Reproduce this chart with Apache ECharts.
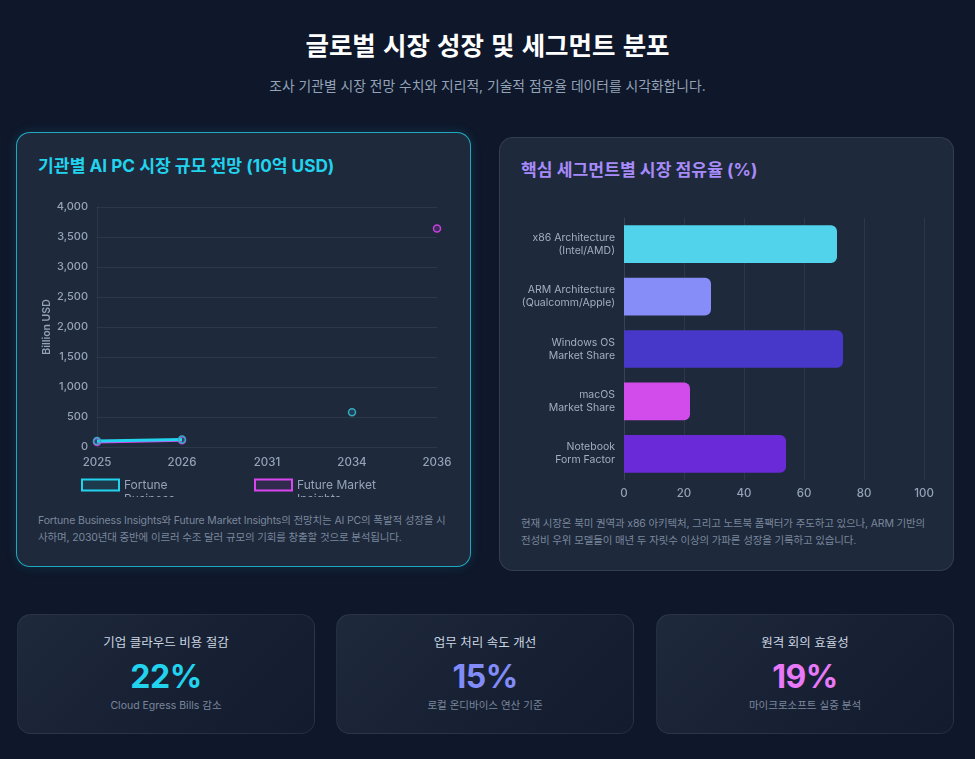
<!DOCTYPE html>
<html lang="ko">
<head>
<meta charset="utf-8">
<script src="https://cdn.jsdelivr.net/npm/echarts@6/dist/echarts.min.js"></script>
<style>
  html, body { margin:0; padding:0; }
  body { width:975px; height:759px; background:#0f172a; position:relative; overflow:hidden;
         font-family: Inter, "Noto Sans CJK KR", "Noto Sans", sans-serif; }
  .abs { position:absolute; }
  h1 { position:absolute; left:0; width:975px; top:26px; margin:0; text-align:center; color:#fff;
       font-size:25.5px; font-weight:700; line-height:36px; font-family:"Noto Sans CJK KR", Inter, sans-serif; }
  .sub { position:absolute; left:0; width:975px; top:76px; text-align:center; color:#94a3b8; font-size:13.8px; line-height:20px; }
  .card { position:absolute; background:#1e293b; border-radius:14px; box-sizing:border-box; }
  #cardL { left:16px; top:132px; width:455px; height:435px; border:1.5px solid rgba(34,211,238,0.75);
           box-shadow:0 0 12px rgba(34,211,238,0.14); }
  #cardR { left:499px; top:137px; width:455px; height:434px; border:1px solid rgba(148,163,184,0.18); }
  .ctitle { position:absolute; font-size:17.2px; font-weight:700; line-height:24px; white-space:nowrap; }
  .desc { position:absolute; font-size:10.5px; letter-spacing:-0.15px; line-height:17px; color:#7a879c; white-space:nowrap; }
  .kpi { position:absolute; top:614px; width:298px; height:120px; border-radius:14px; box-sizing:border-box;
         border:1px solid rgba(148,163,184,0.12);
         background:linear-gradient(135deg, #1e293b 0%, #172033 60%, #131c2e 100%); text-align:center; }
  .kpi .t { position:absolute; left:0; right:0; top:18px; font-size:12.5px; color:#cbd5e1; line-height:20px; }
  .kpi .v { position:absolute; left:0; right:0; top:41px; font-size:32px; font-weight:700; line-height:42px; letter-spacing:-0.5px; }
  .kpi .s { position:absolute; left:0; right:0; top:83px; font-size:10.5px; color:#7a879c; line-height:16px; }
</style>
</head>
<body>
<h1>글로벌 시장 성장 및 세그먼트 분포</h1>
<div class="sub">조사 기관별 시장 전망 수치와 지리적, 기술적 점유율 데이터를 시각화합니다.</div>

<div class="card" id="cardL"></div>
<div class="card" id="cardR"></div>

<div class="ctitle" style="left:38px; top:154px; color:#22d3ee;">기관별 AI PC 시장 규모 전망 (10억 USD)</div>
<div class="ctitle" style="left:521px; top:158px; color:#a78bfa;">핵심 세그먼트별 시장 점유율 (%)</div>

<div id="lineChart" class="abs" style="left:30px; top:190px; width:430px; height:307px;"></div>
<div id="barChart" class="abs" style="left:510px; top:195px; width:440px; height:305px;"></div>

<div class="desc" style="left:38px; top:512px;">Fortune Business Insights와 Future Market Insights의 전망치는 AI PC의 폭발적 성장을 시<br>사하며, 2030년대 중반에 이르러 수조 달러 규모의 기회를 창출할 것으로 분석됩니다.</div>
<div class="desc" style="left:521px; top:515px;">현재 시장은 북미 권역과 x86 아키텍처, 그리고 노트북 폼팩터가 주도하고 있으나, ARM 기반의<br>전성비 우위 모델들이 매년 두 자릿수 이상의 가파른 성장을 기록하고 있습니다.</div>

<div class="kpi" style="left:17px;"><div class="t">기업 클라우드 비용 절감</div><div class="v" style="color:#22d3ee;">22%</div><div class="s">Cloud Egress Bills 감소</div></div>
<div class="kpi" style="left:336px;"><div class="t">업무 처리 속도 개선</div><div class="v" style="color:#818cf8;">15%</div><div class="s">로컬 온디바이스 연산 기준</div></div>
<div class="kpi" style="left:656px;"><div class="t">원격 회의 효율성</div><div class="v" style="color:#e879f9;">19%</div><div class="s">마이크로소프트 실증 분석</div></div>

<script>
// ---- data ----
const years = ['2025', '2026', '2031', '2034', '2036'];
const fortuneName = 'Fortune Business Insights';
const futureName = 'Future Market Insights';
const fortuneValues = [100, 125, null, 580, null];
const futureValues = [85, 112, null, null, 3640];
const yTicks = { min: 0, max: 4000, interval: 500 };

const segments = ['x86 Architecture\n(Intel/AMD)', 'ARM Architecture\n(Qualcomm/Apple)', 'Windows OS\nMarket Share', 'macOS\nMarket Share', 'Notebook\nForm Factor'];
const segmentShares = [71, 29, 73, 22, 54];
const segmentColors = ['#52d3ec', '#868cf8', '#4838c9', '#d24cec', '#6a2ad8'];
const xTicks = { min: 0, max: 100, interval: 20 };

const FONT = 'Inter, "Noto Sans CJK KR", sans-serif';
const labelColor = '#94a3b8';
const gridColor = 'rgba(148,163,184,0.12)';

// ---- line chart ----
const lc = echarts.init(document.getElementById('lineChart'), null, { renderer: 'canvas' });
// Legend text wraps; blank lines are prepended so the first text line sits level with the icon.
function legendCfg(name, left, lines, color, fill) {
  const LH = 14;
  const blank = lines - 1;
  const blockH = (blank + lines) * LH;
  return {
    left: left, top: 295 - blockH / 2, orient: 'horizontal', itemWidth: 37, itemHeight: 11, itemGap: 10,
    selectedMode: false, padding: 0,
    formatter: n => '\n'.repeat(blank) + n,
    data: [{ name: name, icon: 'rect', itemStyle: { color: fill, borderColor: color, borderWidth: 2 } }],
    textStyle: { color: labelColor, fontSize: 12, fontFamily: FONT, width: 86, overflow: 'break', lineHeight: LH }
  };
}
lc.setOption({
  animation: false,
  textStyle: { fontFamily: FONT },
  grid: { left: 67, right: 23, top: 17, bottom: 50 },
  legend: [
    legendCfg(fortuneName, 51, 3, '#22d3ee', 'rgba(34,211,238,0.10)'),
    legendCfg(futureName, 224, 2, '#d946ef', 'rgba(217,70,239,0.10)')
  ],
  xAxis: {
    type: 'category', data: years, boundaryGap: false,
    axisLine: { show: false }, axisTick: { show: false },
    axisLabel: { color: labelColor, fontSize: 11.5, fontWeight: 500, margin: 10, fontFamily: FONT },
    splitLine: { show: false }
  },
  yAxis: {
    type: 'value', min: yTicks.min, max: yTicks.max, interval: yTicks.interval,
    name: 'Billion USD', nameLocation: 'middle', nameGap: 45, nameRotate: 90, nameMoveOverlap: false,
    nameTextStyle: { color: labelColor, fontSize: 10.5, fontWeight: 600, fontFamily: FONT },
    axisLine: { show: true, lineStyle: { color: 'rgba(148,163,184,0.10)' } },
    axisTick: { show: false },
    axisLabel: { color: labelColor, fontSize: 11, fontWeight: 500, margin: 9, fontFamily: FONT,
                 formatter: v => v.toLocaleString('en-US') },
    splitLine: { lineStyle: { color: gridColor, width: 1 } }
  },
  series: [
    {
      name: futureName, type: 'line', data: futureValues, connectNulls: false, z: 2,
      symbol: 'circle', symbolSize: 7, showAllSymbol: true,
      lineStyle: { color: '#d946ef', width: 3 },
      itemStyle: { color: 'rgba(217,70,239,0.15)', borderColor: '#c73fdc', borderWidth: 1.5 }
    },
    {
      name: fortuneName, type: 'line', data: fortuneValues, connectNulls: false, z: 3,
      symbol: 'circle', symbolSize: 7, showAllSymbol: true,
      lineStyle: { color: '#22d3ee', width: 3 },
      itemStyle: { color: 'rgba(34,211,238,0.15)', borderColor: '#38a9c2', borderWidth: 1.5 }
    }
  ]
});

// ---- bar chart ----
const bc = echarts.init(document.getElementById('barChart'), null, { renderer: 'canvas' });
bc.setOption({
  animation: false,
  textStyle: { fontFamily: FONT },
  grid: { left: 114, right: 26, top: 23, bottom: 20 },
  xAxis: {
    type: 'value', min: xTicks.min, max: xTicks.max, interval: xTicks.interval,
    axisLine: { show: false }, axisTick: { show: false },
    axisLabel: { color: labelColor, fontSize: 11.5, fontWeight: 500, margin: 8, fontFamily: FONT },
    splitLine: { lineStyle: { color: gridColor, width: 1 } }
  },
  yAxis: {
    type: 'category', data: segments, inverse: true,
    axisLine: { show: true, lineStyle: { color: gridColor } }, axisTick: { show: false },
    axisLabel: { color: '#a3aec0', fontSize: 10.5, lineHeight: 13, margin: 9, fontFamily: FONT, align: 'right' }
  },
  series: [{
    type: 'bar', barCategoryGap: '28%',
    data: segmentShares.map((v, i) => ({ value: v, itemStyle: { color: segmentColors[i] } })),
    itemStyle: { borderRadius: [0, 6, 6, 0] }
  }]
});
</script>
</body>
</html>
